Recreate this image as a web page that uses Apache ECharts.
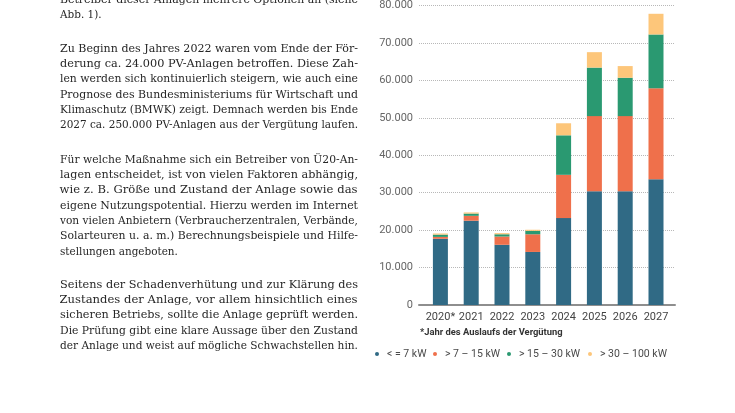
<!DOCTYPE html>
<html>
<head>
<meta charset="utf-8">
<script src="https://cdn.jsdelivr.net/npm/echarts@6/dist/echarts.min.js"></script>
<style>
  html, body { margin: 0; padding: 0; background: #ffffff; }
  #wrap { position: relative; width: 735px; height: 413px; overflow: hidden; background: #fff; }
  #chart { position: absolute; left: 0; top: 0; width: 735px; height: 413px; }
  #text { position: absolute; left: 0; top: 0; width: 735px; height: 413px; pointer-events: none; }
  .ln { position: absolute; left: 59.5px; width: 298px; height: 16px; line-height: 16px;
        font-family: "DejaVu Serif", "Liberation Serif", serif; font-size: 11.6px; color: #262626;
        white-space: nowrap; }
  .ln span { display: inline-block; transform-origin: left center; }
</style>
</head>
<body>
<div id="wrap">
  <div id="chart"></div>
  <div id="text"></div>
</div>
<script>
// ---------- chart data ----------
const categories = ['2020*', '2021', '2022', '2023', '2024', '2025', '2026', '2027'];
const seriesNames = ['< = 7 kW', '> 7 – 15 kW', '> 15 – 30 kW', '> 30 – 100 kW'];
const upTo7kW     = [17600, 22400, 16000, 14100, 23100, 30200, 30200, 33400];
const from7to15   = [500, 1300, 2200, 4700, 11500, 20000, 20000, 24200];
const from15to30  = [600, 600, 600, 900, 10500, 12900, 10200, 14300];
const from30to100 = [300, 300, 300, 300, 3200, 4100, 3100, 5500];
const yMin = 0, yMax = 80000, yStep = 10000;
const footnote = '*Jahr des Auslaufs der Vergütung';

// ---------- body text (lines as printed) ----------
const para1 = ['Betreiber dieser Anlagen mehrere Optionen an (siehe', 'Abb. 1).'];
const para2 = [
  'Zu Beginn des Jahres 2022 waren vom Ende der För-',
  'derung ca. 24.000 PV-Anlagen betroffen. Diese Zah-',
  'len werden sich kontinuierlich steigern, wie auch eine',
  'Prognose des Bundesministeriums für Wirtschaft und',
  'Klimaschutz (BMWK) zeigt. Demnach werden bis Ende',
  '2027 ca. 250.000 PV-Anlagen aus der Vergütung laufen.'
];
const para3 = [
  'Für welche Maßnahme sich ein Betreiber von Ü20-An-',
  'lagen entscheidet, ist von vielen Faktoren abhängig,',
  'wie z. B. Größe und Zustand der Anlage sowie das',
  'eigene Nutzungspotential. Hierzu werden im Internet',
  'von vielen Anbietern (Verbraucherzentralen, Verbände,',
  'Solarteuren u. a. m.) Berechnungsbeispiele und Hilfe-',
  'stellungen angeboten.'
];
const para4 = [
  'Seitens der Schadenverhütung und zur Klärung des',
  'Zustandes der Anlage, vor allem hinsichtlich eines',
  'sicheren Betriebs, sollte die Anlage geprüft werden.',
  'Die Prüfung gibt eine klare Aussage über den Zustand',
  'der Anlage und weist auf mögliche Schwachstellen hin.'
];

// ---------- layout text ----------
(function () {
  const holder = document.getElementById('text');
  const LH = 15.35, W = 298;
  const paras = [[para1, -1.5], [para2, 47.5], [para3, 158.5], [para4, 283.5]];
  paras.forEach(([lines, y0]) => {
    lines.forEach((t, i) => {
      const d = document.createElement('div');
      d.className = 'ln';
      d.style.top = (y0 + i * LH - 8) + 'px';
      const s = document.createElement('span');
      s.textContent = t;
      d.appendChild(s);
      holder.appendChild(d);
      const short = (t === 'Abb. 1).' || t === 'stellungen angeboten.');
      const w = s.getBoundingClientRect().width;
      if (short) {
        s.style.transform = 'scaleX(0.9)';
        return;
      }
      const spaces = (t.match(/ /g) || []).length;
      if (w < W && spaces > 0) {
        s.style.wordSpacing = ((W - w) / spaces) + 'px';
      } else if (w > W) {
        s.style.transform = 'scaleX(' + (W / w) + ')';
      }
    });
  });
})();

// ---------- chart ----------
const colors = ['#306a85', '#ef704b', '#2a9971', '#fdc67a'];
const dataSets = [upTo7kW, from7to15, from15to30, from30to100];
const fmt = v => String(v).replace(/\B(?=(\d{3})+(?!\d))/g, '.');

const chart = echarts.init(document.getElementById('chart'), null, { renderer: 'canvas' });
const legendLeft = [375, 433, 507, 588];

chart.setOption({
  animation: false,
  backgroundColor: 'transparent',
  grid: [
    { left: 419, top: 4, width: 256, height: 301 },
    { left: 425, top: 4, width: 246.4, height: 301 }
  ],
  xAxis: [
    { gridIndex: 0, type: 'category', data: categories,
      axisLabel: { show: false }, axisTick: { show: false },
      axisLine: { show: true, lineStyle: { color: '#8e8e8e', width: 2 } },
      splitLine: { show: false } },
    { gridIndex: 1, type: 'category', data: categories,
      axisLine: { show: false }, axisTick: { show: false },
      axisLabel: { interval: 0, color: '#444', fontSize: 11, fontFamily: 'Roboto', margin: 7 } }
  ],
  yAxis: [
    { gridIndex: 0, type: 'value', min: yMin, max: yMax, interval: yStep,
      axisLine: { show: false }, axisTick: { show: false },
      axisLabel: { color: '#666', fontSize: 11, fontFamily: 'Roboto', margin: 6, formatter: fmt },
      splitLine: { show: true, lineStyle: { color: '#b8b8b8', type: 'dotted', width: 1 } } },
    { gridIndex: 1, type: 'value', min: yMin, max: yMax, interval: yStep, show: false,
      splitLine: { show: false } }
  ],
  legend: legendLeft.map((l, i) => ({
    data: [seriesNames[i]], left: l, top: 348, padding: 0,
    icon: 'circle', itemWidth: 10, itemHeight: 4, itemGap: 0,
    selectedMode: false,
    textStyle: { color: '#4a4a4a', fontSize: 10.5, fontFamily: 'Roboto', lineHeight: 12, padding: [0, 0, 0, 0] }
  })),
  graphic: [
    { type: 'text', left: 420, top: 328,
      style: { text: footnote, fill: '#333', font: 'bold 9.4px Roboto' } }
  ],
  series: dataSets.map((d, i) => ({
    name: seriesNames[i], type: 'bar', stack: 'total',
    xAxisIndex: 1, yAxisIndex: 1, barWidth: 15,
    itemStyle: { color: colors[i] },
    emphasis: { disabled: true },
    data: d
  }))
});
</script>
</body>
</html>
